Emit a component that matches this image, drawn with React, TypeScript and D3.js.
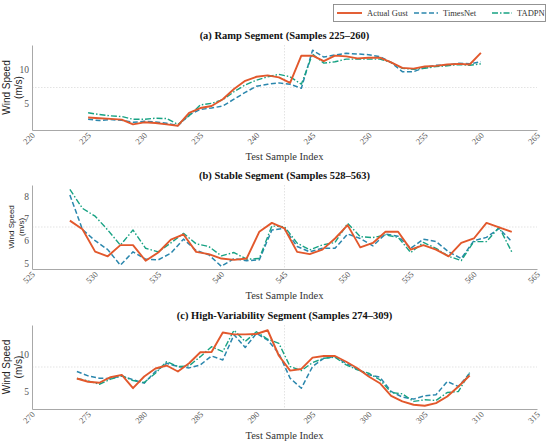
/*eslint-disable*/
import React, { useEffect, useRef } from 'react';
import * as d3 from 'd3';

// (a) ramp segment
const aIndex = [225, 226, 227, 228, 229, 230, 231, 232, 233, 234, 235, 236, 237, 238, 239, 240, 241, 242,
  243, 244, 245, 246, 247, 248, 249, 250, 251, 252, 253, 254, 255, 256, 257, 258, 259, 260];
const aActual = [2.9, 2.8, 2.7, 2.6, 1.9, 2.2, 2.1, 1.9, 1.7, 3.6, 4.3, 4.6, 5.6, 7.1, 8.3, 8.9, 9.1, 8.8,
  8.0, 12.0, 12.0, 11.2, 12.0, 11.9, 11.6, 11.7, 11.7, 11.0, 10.2, 10.1, 10.4, 10.5, 10.7, 10.8, 10.7, 12.4];
const aTimesNet = [2.65, 2.45, 2.6, 2.5, 2.2, 2.35, 2.25, 2.05, 1.7, 3.3, 4.1, 4.3, 4.6, 5.6, 6.6, 7.5, 7.8, 8.0,
  7.8, 7.2, 12.8, 11.8, 12.1, 12.35, 12.25, 12.15, 11.85, 11.0, 9.65, 9.65, 10.25, 10.6, 10.6, 10.9, 10.8, 11.1];
const aTadpn = [3.6, 3.35, 3.15, 3.05, 2.65, 2.65, 2.8, 2.75, 1.9, 3.15, 4.75, 5.0, 5.5, 6.7, 7.7, 8.4, 8.9, 9.25,
  8.9, 7.8, 12.25, 10.9, 11.1, 11.5, 11.5, 11.5, 11.5, 11.0, 10.15, 10.0, 10.15, 10.4, 10.5, 10.7, 10.6, 10.8];

// (b) stable segment
const bIndex = [528, 529, 530, 531, 532, 533, 534, 535, 536, 537, 538, 539, 540, 541, 542, 543, 544, 545,
  546, 547, 548, 549, 550, 551, 552, 553, 554, 555, 556, 557, 558, 559, 560, 561, 562, 563];
const bActual = [6.9, 6.51, 5.51, 5.3, 5.8, 5.8, 5.1, 5.47, 6.05, 6.28, 5.5, 5.4, 5.2, 5.14, 5.2, 6.4, 6.8, 6.55,
  5.5, 5.4, 5.6, 6.1, 6.7, 5.7, 5.9, 6.4, 6.4, 5.6, 5.8, 5.6, 5.3, 5.9, 6.1, 6.8, 6.6, 6.4];
const bTimesNet = [8.05, 6.5, 6.0, 5.6, 4.9, 5.5, 5.17, 5.14, 5.44, 6.07, 5.56, 5.37, 4.85, 5.2, 5.1, 5.14, 6.48, 6.55,
  5.74, 5.5, 5.66, 5.66, 6.3, 6.1, 5.77, 6.3, 6.2, 5.66, 6.07, 5.96, 5.5, 5.2, 6.0, 6.15, 6.55, 5.96];
const bTadpn = [8.3, 7.45, 7.1, 6.48, 5.8, 6.48, 5.66, 5.5, 5.9, 6.33, 5.86, 5.74, 5.32, 5.47, 5.17, 5.2, 6.66, 6.63,
  5.89, 5.59, 5.81, 5.92, 6.78, 6.18, 6.14, 6.26, 6.15, 5.47, 5.92, 5.66, 5.3, 5.11, 5.96, 5.96, 6.6, 5.5];

// (c) high-variability segment
const cIndex = [274, 275, 276, 277, 278, 279, 280, 281, 282, 283, 284, 285, 286, 287, 288, 289, 290, 291,
  292, 293, 294, 295, 296, 297, 298, 299, 300, 301, 302, 303, 304, 305, 306, 307, 308, 309];
const cActual = [6.77, 6.33, 6.2, 6.94, 7.25, 5.48, 7.03, 8.1, 8.5, 7.7, 8.8, 10.26, 10.3, 12.9, 12.65, 12.65, 12.7, 13.2,
  9.8, 7.82, 8.04, 9.55, 9.77, 9.77, 9.0, 8.14, 7.03, 6.14, 4.46, 3.71, 3.27, 3.13, 3.49, 4.37, 5.7, 7.16];
const cTimesNet = [7.7, 7.12, 6.8, 6.77, 7.12, 6.6, 6.15, 7.7, 8.8, 8.36, 8.18, 8.58, 9.77, 9.24, 12.6, 10.9, 12.78, 11.9,
  10.1, 6.8, 5.47, 8.36, 9.46, 9.68, 8.8, 8.0, 7.25, 6.94, 5.04, 4.29, 4.02, 4.46, 4.6, 6.37, 5.7, 7.47];
const cTadpn = [6.77, 6.46, 6.0, 6.68, 7.12, 6.5, 6.24, 7.47, 9.02, 8.36, 8.45, 9.68, 11.0, 10.35, 13.2, 11.7, 13.0, 12.0,
  11.45, 8.36, 7.82, 8.89, 9.46, 9.6, 8.58, 7.92, 7.47, 6.6, 4.9, 4.73, 3.71, 3.93, 3.84, 4.9, 5.04, 7.56];

const aXTicks = [220, 225, 230, 235, 240, 245, 250, 255, 260, 265];
const bXTicks = [525, 530, 535, 540, 545, 550, 555, 560, 565];
const cXTicks = [270, 275, 280, 285, 290, 295, 300, 305, 310, 315];
const aYTicks = [5, 10];
const bYTicks = [5, 6, 7, 8];
const cYTicks = [5, 10];

const titles = [
  '(a) Ramp Segment (Samples 225–260)',
  '(b) Stable Segment (Samples 528–563)',
  '(c) High-Variability Segment (Samples 274–309)',
];
const seriesNames = ['Actual Gust', 'TimesNet', 'TADPN'];
const colors = ['#e2582c', '#2b87ad', '#17a283'];
const dashes = ['none', '5,2.5', '6,2,1.5,2'];
const widths = [1.9, 1.5, 1.4];

const SERIF = '"Liberation Serif", "Times New Roman", serif';
const SANS = '"Liberation Sans", Arial, sans-serif';

const App: React.FC = () => {
  const svgRef = useRef<SVGSVGElement>(null);

  useEffect(() => {
    const svg = d3.select(svgRef.current);
    svg.selectAll('*').remove();

    const left = 32;
    const right = 537;
    const panels = [
      { idx: aIndex, series: [aActual, aTimesNet, aTadpn], xd: [220, 265], yd: [1.07, 13.57], xt: aXTicks, yt: aYTicks, top: 45, bottom: 130, ylabSize: 10, ylabX: 10 },
      { idx: bIndex, series: [bActual, bTimesNet, bTadpn], xd: [525, 565], yd: [4.73, 8.5], xt: bXTicks, yt: bYTicks, top: 185, bottom: 269, ylabSize: 8, ylabX: 14 },
      { idx: cIndex, series: [cActual, cTimesNet, cTadpn], xd: [270, 315], yd: [2.7, 13.9], xt: cXTicks, yt: cYTicks, top: 325, bottom: 409, ylabSize: 10, ylabX: 10 },
    ];

    panels.forEach((p, pi) => {
      const x = d3.scaleLinear().domain(p.xd).range([left, right]);
      const y = d3.scaleLinear().domain(p.yd).range([p.bottom, p.top]);
      const g = svg.append('g');

      // center crosshair
      const xm = (p.xd[0] + p.xd[1]) / 2;
      const ym = (p.yd[0] + p.yd[1]) / 2;
      g.append('line')
        .attr('x1', x(xm)).attr('x2', x(xm))
        .attr('y1', p.top).attr('y2', p.bottom)
        .attr('stroke', '#dcdcdc').attr('stroke-width', 0.8).attr('stroke-dasharray', '1.5,1.5');
      g.append('line')
        .attr('x1', left).attr('x2', right)
        .attr('y1', y(ym)).attr('y2', y(ym))
        .attr('stroke', '#dcdcdc').attr('stroke-width', 0.8).attr('stroke-dasharray', '1.5,1.5');

      // axes
      const xa = g.append('g')
        .attr('transform', `translate(0,${p.bottom})`)
        .call(d3.axisBottom(x).tickValues(p.xt).tickSize(0).tickSizeOuter(0).tickFormat(d3.format('d')));
      xa.select('.domain').attr('stroke', '#a8a8a8').attr('stroke-width', 1);
      xa.selectAll('text')
        .attr('font-family', SERIF).attr('font-size', 8.5).attr('fill', '#555')
        .attr('text-anchor', 'end')
        .attr('dy', null).attr('y', null)
        .attr('transform', 'translate(3,6) rotate(-45)');

      const ya = g.append('g')
        .attr('transform', `translate(${left},0)`)
        .call(d3.axisLeft(y).tickValues(p.yt).tickSize(0).tickSizeOuter(0).tickPadding(3).tickFormat(d3.format('d')));
      ya.select('.domain').attr('stroke', '#a8a8a8').attr('stroke-width', 1);
      ya.selectAll('text').attr('font-family', SERIF).attr('font-size', 9.5).attr('fill', '#555');

      // lines
      const line = d3.line<number>()
        .x((_, i) => x(p.idx[i]))
        .y((d) => y(d));
      [1, 2, 0].forEach((si) => {
        g.append('path')
          .datum(p.series[si])
          .attr('d', line)
          .attr('fill', 'none')
          .attr('stroke', colors[si])
          .attr('stroke-width', widths[si])
          .attr('stroke-dasharray', dashes[si])
          .attr('stroke-linejoin', 'round');
      });

      // labels
      g.append('text')
        .attr('x', (left + right) / 2).attr('y', p.top - 6)
        .attr('text-anchor', 'middle')
        .attr('font-family', SERIF).attr('font-weight', 'bold').attr('font-size', 10.5).attr('fill', '#111')
        .text(titles[pi]);
      g.append('text')
        .attr('x', (left + right) / 2).attr('y', p.bottom + 30)
        .attr('text-anchor', 'middle')
        .attr('font-family', SERIF).attr('font-size', 10.5).attr('fill', '#333')
        .text('Test Sample Index');
      const ymid = (p.top + p.bottom) / 2;
      const yl = g.append('text')
        .attr('transform', `translate(${p.ylabX},${ymid}) rotate(-90)`)
        .attr('text-anchor', 'middle')
        .attr('font-family', SANS).attr('font-size', p.ylabSize).attr('fill', '#222');
      yl.append('tspan').attr('x', 0).attr('dy', 0).text('Wind Speed');
      yl.append('tspan').attr('x', 0).attr('dy', '1.2em').text('(m/s)');
    });

    // legend
    const lg = svg.append('g');
    lg.append('rect')
      .attr('x', 333.5).attr('y', 4.5).attr('width', 212).attr('height', 17)
      .attr('fill', 'white').attr('stroke', '#888').attr('stroke-width', 0.9);
    const lx = [337, 414, 492];
    const ll = [25, 24, 20];
    seriesNames.forEach((name, i) => {
      lg.append('line')
        .attr('x1', lx[i]).attr('x2', lx[i] + ll[i]).attr('y1', 13).attr('y2', 13)
        .attr('stroke', colors[i]).attr('stroke-width', widths[i]).attr('stroke-dasharray', dashes[i]);
      lg.append('text')
        .attr('x', lx[i] + ll[i] + 5).attr('y', 16)
        .attr('font-family', SERIF).attr('font-size', 8.5).attr('fill', '#333')
        .text(name);
    });
  }, []);

  return <svg ref={svgRef} width={550} height={444} style={{ position: 'absolute', left: 0, top: 0, background: 'white' }}></svg>;
};

export default App;
